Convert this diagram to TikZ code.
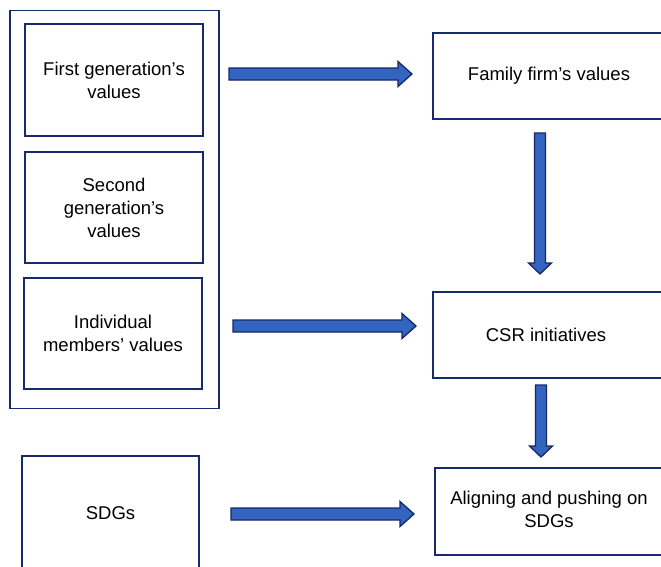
\documentclass[tikz,border=0pt]{standalone}
\usepackage{fontspec}
\setmainfont{Liberation Sans}
\definecolor{navy}{RGB}{22,42,110}
\definecolor{arrfill}{RGB}{50,100,192}
\definecolor{arrline}{RGB}{20,40,105}
\tikzset{
  box/.style={draw=navy, line width=1.6pt, fill=white, align=center, inner sep=0pt,
    font=\fontsize{18.5}{23}\selectfont, text=black},
  barrow/.style={fill=arrfill, draw=arrline, line width=1.3pt, line join=miter}
}
\newcommand\harr[3]{% x1, x2(tip), y
  \filldraw[barrow] (#1,#3-6) -- (#2-14,#3-6) -- (#2-14,#3-12.5) -- (#2,#3)
    -- (#2-14,#3+12.5) -- (#2-14,#3+6) -- (#1,#3+6) -- cycle;}
\newcommand\varr[3]{% x, y1, y2(tip)
  \filldraw[barrow] (#1-5.5,#2) -- (#1+5.5,#2) -- (#1+5.5,#3-11) -- (#1+11.5,#3-11)
    -- (#1,#3) -- (#1-11.5,#3-11) -- (#1-5.5,#3-11) -- cycle;}
\begin{document}
\begin{tikzpicture}[x=1pt,y=-1pt]
\useasboundingbox (0,0) rectangle (661,566);
\clip (0,0) rectangle (661,566);
\fill[white] (0,0) rectangle (661,566);
% left group
\node[box, minimum width=209pt, minimum height=398pt] (outer) at (114.5,209.5) {};
\node[box, minimum width=178pt, minimum height=112pt] (first) at (114,80) {First generation's\\values};
\node[box, minimum width=178pt, minimum height=111pt] (second) at (114,207.5) {Second\\generation's\\values};
\node[box, minimum width=178pt, minimum height=111pt] (indiv) at (113,333.5) {Individual\\members' values};
\node[box, minimum width=177pt, minimum height=140pt] (sdgsl) at (110.5,526) {};
\node[font=\fontsize{18.5}{23}\selectfont] (sdgst) at (110.5,513) {SDGs};
% right column
\node[box, minimum width=240pt, minimum height=86pt] (family) at (553,76) {};
\node[font=\fontsize{18.5}{23}\selectfont] at (549,76) {Family firm's values};
\node[box, minimum width=240pt, minimum height=86pt] (csr) at (553,335) {};
\node[font=\fontsize{18.5}{23}\selectfont] at (546,335) {CSR initiatives};
\node[box, minimum width=240pt, minimum height=87pt] (align) at (555,511.5) {};
\node[font=\fontsize{18.5}{23}\selectfont, align=center] at (549,509) {Aligning and pushing on\\SDGs};
% arrows
\harr{229}{412}{74}
\harr{233}{416}{326}
\harr{231}{414}{514}
\varr{540}{133}{274}
\varr{541}{385}{457}
\end{tikzpicture}
\end{document}
